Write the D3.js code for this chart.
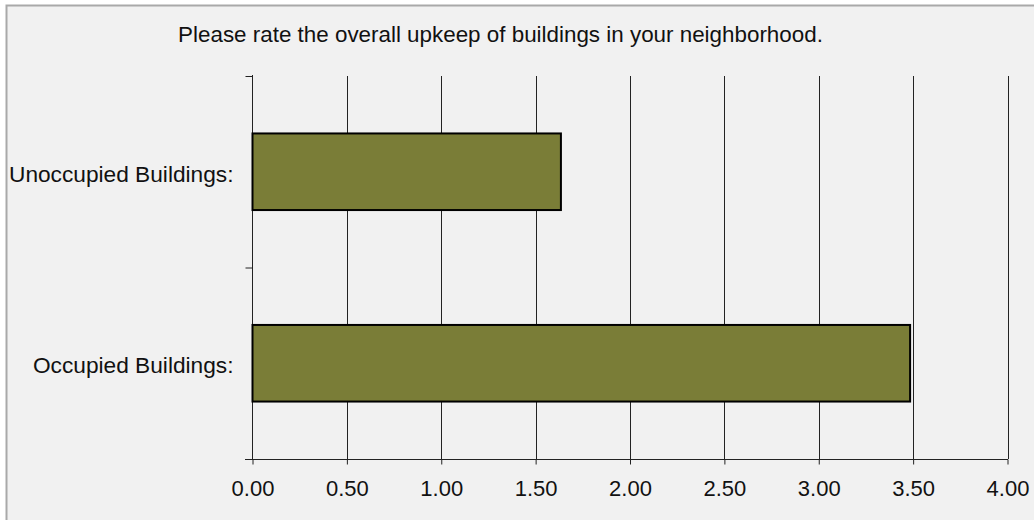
<!DOCTYPE html>
<html><head><meta charset="utf-8">
<script src="https://cdn.jsdelivr.net/npm/d3@7"></script>
<style>
html,body{margin:0;padding:0;background:#fff;}
svg{display:block;font-family:"Liberation Sans",Arial,sans-serif;}
</style></head>
<body>
<svg id="chart" width="1034" height="520"></svg>
<script>
const title = "Please rate the overall upkeep of buildings in your neighborhood.";
const categories = ["Unoccupied Buildings:", "Occupied Buildings:"];
const values = [1.634, 3.484];
const tickValues = [0, 0.5, 1, 1.5, 2, 2.5, 3, 3.5, 4];

const svg = d3.select("#chart");
svg.append("rect").attr("x",6.5).attr("y",5.5).attr("width",1040).attr("height",530)
  .attr("fill","#f1f1f1").attr("stroke","#a9a9a9").attr("stroke-width",2);

const x = d3.scaleLinear().domain([0,4]).range([252.5,1007.5]);
const y = d3.scaleBand().domain(categories).range([76,459]).paddingInner(0.6).paddingOuter(0.3);

svg.append("text").attr("x",500.5).attr("y",42).attr("text-anchor","middle")
  .attr("font-size",22.4).attr("fill","#111").text(title);

// gridlines
svg.append("g").selectAll("line").data(tickValues.slice(1)).join("line")
  .attr("x1",d=>Math.round(x(d))+0.5).attr("x2",d=>Math.round(x(d))+0.5)
  .attr("y1",76).attr("y2",459).attr("stroke","#222").attr("stroke-width",1);

// x axis
const xa = svg.append("g").attr("transform","translate(0,459.5)")
  .call(d3.axisBottom(x).tickValues(tickValues).tickFormat(d3.format(".2f")).tickSize(5).tickPadding(12).tickSizeOuter(0));
xa.select(".domain").remove();
xa.append("line").attr("x1",245).attr("x2",1008).attr("stroke","#222");
xa.selectAll(".tick line").attr("stroke","#222");
xa.selectAll(".tick text").attr("font-size",22).attr("fill","#111").attr("font-family","Liberation Sans, Arial, sans-serif")
  .attr("dy",null).attr("y",36.5);

// y axis
const ya = svg.append("g").attr("transform","translate(252.5,0)")
  .call(d3.axisLeft(y).tickSize(0).tickPadding(19));
ya.select(".domain").remove();
ya.append("line").attr("y1",75).attr("y2",459).attr("stroke","#222");
ya.selectAll(".tick text").attr("font-size",22.7).attr("fill","#111").attr("font-family","Liberation Sans, Arial, sans-serif")
  .attr("dy","0.44em");
const yTicks = [76, (y.range()[0]+y.range()[1])/2];
ya.selectAll(".sep").data(yTicks).join("line").attr("class","sep")
  .attr("x1",-7).attr("x2",0).attr("y1",d=>d+0.5).attr("y2",d=>d+0.5).attr("stroke","#222");

// bars
svg.append("g").selectAll("rect").data(values).join("rect")
  .attr("x",x(0)).attr("y",(d,i)=>y(categories[i]))
  .attr("width",d=>x(d)-x(0)).attr("height",y.bandwidth())
  .attr("fill","#7a7d37").attr("stroke","#000").attr("stroke-width",2);
</script>
</body></html>
